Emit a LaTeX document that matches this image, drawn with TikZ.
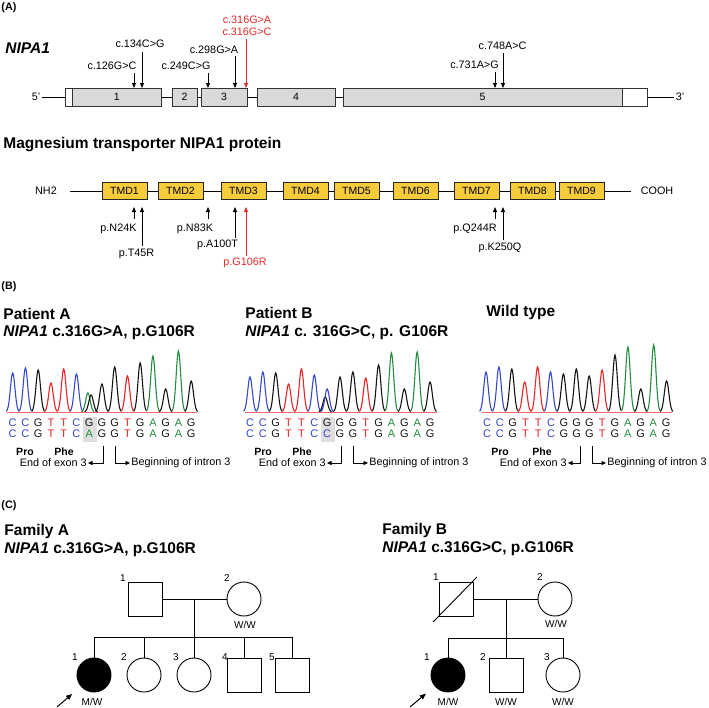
\documentclass[tikz,border=0pt]{standalone}
\usepackage{fontspec}
\setmainfont{Liberation Sans}
\usepackage{tikz}
\usetikzlibrary{positioning,arrows.meta,calc}
\definecolor{mutred}{RGB}{232,40,40}
\definecolor{tmdyellow}{RGB}{246,204,58}
\definecolor{exongray}{RGB}{217,217,217}
\definecolor{bC}{RGB}{52,72,200}
\definecolor{bT}{RGB}{232,36,36}
\definecolor{bA}{RGB}{36,140,64}
\definecolor{bG}{RGB}{20,20,20}
\newcommand{\fsz}[1]{\fontsize{#1}{#1}\selectfont}

\begin{document}
\begin{tikzpicture}[x=1pt,y=-1pt,line width=0.9pt,
		  lbl/.style={font=\fsz{10.8},inner sep=1pt},
		  head/.style={font=\bfseries\fsz{15.5},anchor=west,inner sep=0pt},
		  tag/.style={font=\bfseries\fsz{10.8},anchor=west,inner sep=0pt},
		  aa/.style={font=\bfseries\fsz{10.5},inner sep=0pt},
		  exon/.style={draw=black!80,fill=exongray,minimum height=18,inner sep=0pt,outer sep=0pt,font=\fsz{10.5}},
		  utr/.style={exon,fill=white},
		  tmd/.style={draw=black!85,fill=tmdyellow,minimum width=45,minimum height=17,inner sep=0pt,outer sep=0pt,font=\fsz{10.5}},
		  mut/.style={-{Triangle[length=5pt,width=4pt]}},
		  base/.style={font=\fsz{11},inner sep=0pt},
		  trace/.style={line width=1.1pt},
		  hl/.style={fill=black!13,minimum width=14,minimum height=25,inner sep=0pt},
		  brk/.style={-{Triangle[length=4.5pt,width=4pt]},line width=0.8pt},
		  male/.style={draw,minimum size=34,inner sep=0pt,outer sep=0pt},
		  female/.style={draw,circle,minimum size=34,inner sep=0pt,outer sep=0pt},
		  affected/.style={fill=black},
		  num/.style={font=\fsz{10},inner sep=0pt},
		  geno/.style={font=\fsz{10},inner sep=0pt},
		  proband/.style={-{Triangle[length=6pt,width=5pt]},line width=1pt,shorten >=12pt}
		]
			\useasboundingbox (0,0) rectangle (709,707);

			% (A) the gene
			\node[tag] (tagA) at (1,8) {(A)};
			\node[head,font=\bfseries\itshape\fsz{15.5}] (gene) at (5,48) {NIPA1};
			\node[lbl] (p5) at (36,97) {5'};
			\node[lbl] (p3) at (680,97) {3'};
			\draw (p5.east) -- (p3.west);
			\node[utr,minimum width=6.6] (u5) at (69,97) {};
			\foreach \n/\cx/\w in {1/116.7/88.7, 2/184.5/25, 3/224/46, 4/296/78, 5/482.5/279}
			  \node[exon,minimum width=\w] (e\n) at (\cx,97) {\n};
			\node[utr,minimum width=25] (u3) at (634.5,97) {};

			% the variants on the gene
			\node[lbl] (c126) at (112,66) {c.126G>C};
			\node[lbl] (c134) at (140,44) {c.134C>G};
			\node[lbl] (c249) at (186,66) {c.249C>G};
			\node[lbl] (c298) at (214,50) {c.298G>A};
			\node[lbl,text=mutred] (c316a) at (247,20) {c.316G>A};
			\node[lbl,text=mutred] (c316c) at (247,32) {c.316G>C};
			\node[lbl] (c731) at (474.5,65) {c.731A>G};
			\node[lbl] (c748) at (502.5,46) {c.748A>C};
			\foreach \v/\vx/\vy/\e in {126/134/73/1, 134/142/52/1, 249/208/73/3, 298/235/56/3, 731/495/72/5, 748/503/53/5} {
			  \coordinate (v\v) at (\vx,\vy);
			  \draw[mut] (v\v) -- (v\v |- e\e.north);
			}
			\coordinate (v316) at (246,39);
			\draw[mut,mutred] (v316) -- (v316 |- e3.north);

			% the protein
			\node[head] (prot) at (3,145) {Magnesium transporter NIPA1 protein};
			\node[lbl] (nh) at (46,191) {NH2};
			\node[lbl] (cooh) at (657,191) {COOH};
			\draw ([xshift=12]nh.east) -- ([xshift=-8]cooh.west);
			\foreach \t/\cx in {1/124.5,2/180.5,3/243.5,4/305.5,5/356.5,6/415.5,7/476.5,8/532.5,9/581.5}
			  \node[tmd] (t\t) at (\cx,190.5) {TMD\t};

			% the variants on the protein
			\coordinate (tips) at (0,207);
			\node[lbl] (pN24K) at (118.5,229) {p.N24K};
			\node[lbl] (pT45R) at (136.5,254) {p.T45R};
			\node[lbl] (pN83K) at (195,229) {p.N83K};
			\node[lbl] (pA100T) at (217.5,245) {p.A100T};
			\node[lbl,text=mutred] (pG106R) at (245,263) {p.G106R};
			\node[lbl] (pQ244R) at (475,229) {p.Q244R};
			\node[lbl] (pK250Q) at (500,248) {p.K250Q};
			\foreach \v/\vx/\vy in {24/134/219, 45/142/246, 83/208/219, 100/235/238, 244/495/219, 250/503/240} {
			  \coordinate (w\v) at (\vx,\vy);
			  \draw[mut] (w\v) -- (w\v |- tips);
			}
			\coordinate (w106) at (246,256);
			\draw[mut,mutred] (w106) -- (w106 |- tips);

			% (B) the chromatograms
			\node[tag] (tagB) at (1,287) {(B)};
			\node[head] (patA) at (3,314) {Patient A};
			\node[head] (mutA) at (3,333) {\textit{NIPA1} c.316G>A, p.G106R};
			\node[head] (patB) at (245,313) {Patient B};
			\node[head] (mutB) at (245,333) {\textit{NIPA1} c. 316G>C, p. G106R};
			\node[head] (wt) at (486,312) {Wild type};

			% patient A
			\node[hl] (hlA) at (90,429.5) {};
			\draw[bT!70,line width=0.6pt] (7,412) -- (197,412);
			\foreach \i/\h/\c in {0/39/bC,1/44/bC,2/42/bG,3/29/bT,4/43/bT,5/38/bC,5.9/19/bA,6.15/17/bG,7/28/bG,8/45/bG,9/36/bT,10/49/bG,11/56/bA,12/23/bG,13/61/bA,14/31/bG}
			  \draw[trace,\c] plot[smooth,domain=-6.4:6.4,samples=15] ({12.7+12.75*\i+\x},{412-\h*exp(-((\x)*(\x))/10.24)});
			\foreach \b [count=\i from 0] in {C,C,G,T,T,C,G,G,G,T,G,A,G,A,G}
			  \node[base,text=b\b] (sA\i) at ({12.7+12.75*\i},423) {\b};
			\foreach \b [count=\i from 0] in {C,C,G,T,T,C,A,G,G,T,G,A,G,A,G}
			  \node[base,text=b\b] (sAm\i) at ({12.7+12.75*\i},434) {\b};
			\node[aa] (proA) at (25,452) {Pro};
			\node[aa] (pheA) at (64,452) {Phe};
			\node[lbl,anchor=east] (endA) at (88,463) {End of exon 3};
			\node[lbl,anchor=west] (begA) at (130,463) {Beginning of intron 3};
			\coordinate (jA) at (103,446);
			\coordinate (kA) at (115,446);
			\draw[brk] (jA) |- (endA.east);
			\draw[brk] (kA) |- (begA.west);

			% patient B
			\node[hl] (hlB) at (328,429.5) {};
			\draw[bT!70,line width=0.6pt] (245,412) -- (437,412);
			\foreach \i/\h/\c in {0/35/bC,1/40/bC,2/39/bG,3/28/bT,4/43/bT,5/37/bC,5.85/15/bG,6/23/bC,7/35/bG,8/40/bG,9/34/bT,10/47/bG,11/59/bA,12/23/bG,13/60/bA,14/30/bG}
			  \draw[trace,\c] plot[smooth,domain=-6.4:6.4,samples=15] ({250+12.86*\i+\x},{412-\h*exp(-((\x)*(\x))/10.24)});
			\foreach \b [count=\i from 0] in {C,C,G,T,T,C,G,G,G,T,G,A,G,A,G}
			  \node[base,text=b\b] (sB\i) at ({250+12.86*\i},423) {\b};
			\foreach \b [count=\i from 0] in {C,C,G,T,T,C,C,G,G,T,G,A,G,A,G}
			  \node[base,text=b\b] (sBm\i) at ({250+12.86*\i},434) {\b};
			\node[aa] (proB) at (263,452) {Pro};
			\node[aa] (pheB) at (302,452) {Phe};
			\node[lbl,anchor=east] (endB) at (327,463) {End of exon 3};
			\node[lbl,anchor=west] (begB) at (368,463) {Beginning of intron 3};
			\coordinate (jB) at (341,446);
			\coordinate (kB) at (353,446);
			\draw[brk] (jB) |- (endB.east);
			\draw[brk] (kB) |- (begB.west);

			% wild type
			\draw[bT!70,line width=0.6pt] (482,412) -- (672,412);
			\foreach \i/\h/\c in {0/40/bC,1/45/bC,2/43/bG,3/30/bT,4/45/bT,5/40/bC,6/38/bG,7/43/bG,8/36/bG,9/42/bT,10/57/bG,11/65/bA,12/23/bG,13/67/bA,14/31/bG}
			  \draw[trace,\c] plot[smooth,domain=-6.4:6.4,samples=15] ({486+12.9*\i+\x},{412-\h*exp(-((\x)*(\x))/10.24)});
			\foreach \b [count=\i from 0] in {C,C,G,T,T,C,G,G,G,T,G,A,G,A,G} {
			  \node[base,text=b\b] (sW\i) at ({487+12.8*\i},423) {\b};
			  \node[base,text=b\b] (sWm\i) at ({487+12.8*\i},434) {\b};
			}
			\node[aa] (proW) at (500,452) {Pro};
			\node[aa] (pheW) at (542,452) {Phe};
			\node[lbl,anchor=east] (endW) at (568,463) {End of exon 3};
			\node[lbl,anchor=west] (begW) at (606,463) {Beginning of intron 3};
			\coordinate (jW) at (580,446);
			\coordinate (kW) at (592,446);
			\draw[brk] (jW) |- (endW.east);
			\draw[brk] (kW) |- (begW.west);

			% (C) the pedigrees
			\node[tag] (tagC) at (1,506) {(C)};
			\node[head] (famA) at (4,531) {Family A};
			\node[head] (mutFA) at (4,550) {\textit{NIPA1} c.316G>A, p.G106R};
			\node[head] (famB) at (382,530) {Family B};
			\node[head] (mutFB) at (382,549) {\textit{NIPA1} c.316G>C, p.G106R};

			% family A
			\node[male] (AI1) at (145,599) {};
			\node[female] (AI2) at (244,599) {};
			\node[female,affected] (AII1) at (94,675) {};
			\node[female] (AII2) at (144,675) {};
			\node[female] (AII3) at (194,675) {};
			\node[male] (AII4) at (244.5,675) {};
			\node[male] (AII5) at (292.5,675) {};
			\draw (AI1) -- (AI2);
			\coordinate (Amate) at (AII3.north |- AI1.east);
			\coordinate (Asib) at ($(Amate)+(0,38)$);
			\draw (Amate) -- (AII3.north);
			\draw (AII1.north) |- (Asib) -| (AII5.north);
			\foreach \k in {2,4}
			  \draw (AII\k.north) -- (AII\k.north |- Asib);
			\foreach \k/\nx/\ny/\t in {I1/123/578/1, I2/227/578/2, II1/75/657/1, II2/124/657/2, II3/176/657/3, II4/225/657/4, II5/272/657/5}
			  \node[num] (nA\k) at (\nx,\ny) {\t};
			\node[geno] (gAI2) at (245,625) {W/W};
			\node[geno] (gAII1) at (92,702) {M/W};
			\coordinate (prA) at (57,707);
			\draw[proband] (prA) -- (AII1);

			% family B
			\node[male] (BI1) at (456,599) {};
			\draw ([shift={(-23,23)}]BI1.center) -- ([shift={(21,-22)}]BI1.center);
			\node[female] (BI2) at (555,599) {};
			\node[female,affected] (BII1) at (448,675) {};
			\node[male] (BII2) at (506,675) {};
			\node[female] (BII3) at (563,675) {};
			\draw (BI1) -- (BI2);
			\coordinate (Bmate) at (BII2.north |- BI1.east);
			\coordinate (Bsib) at ($(Bmate)+(0,39)$);
			\draw (Bmate) -- (BII2.north);
			\draw (BII1.north) |- (Bsib) -| (BII3.north);
			\foreach \k/\nx/\ny/\t in {I1/436/577/1, I2/540/577/2, II1/427/657/1, II2/483/657/2, II3/547/657/3}
			  \node[num] (nB\k) at (\nx,\ny) {\t};
			\node[geno] (gBI2) at (556,624) {W/W};
			\node[geno] (gBII1) at (448,702) {M/W};
			\node[geno] (gBII2) at (506,702) {W/W};
			\node[geno] (gBII3) at (563,702) {W/W};
			\coordinate (prB) at (410,707);
			\draw[proband] (prB) -- (BII1);

		\end{tikzpicture}
\end{document}
